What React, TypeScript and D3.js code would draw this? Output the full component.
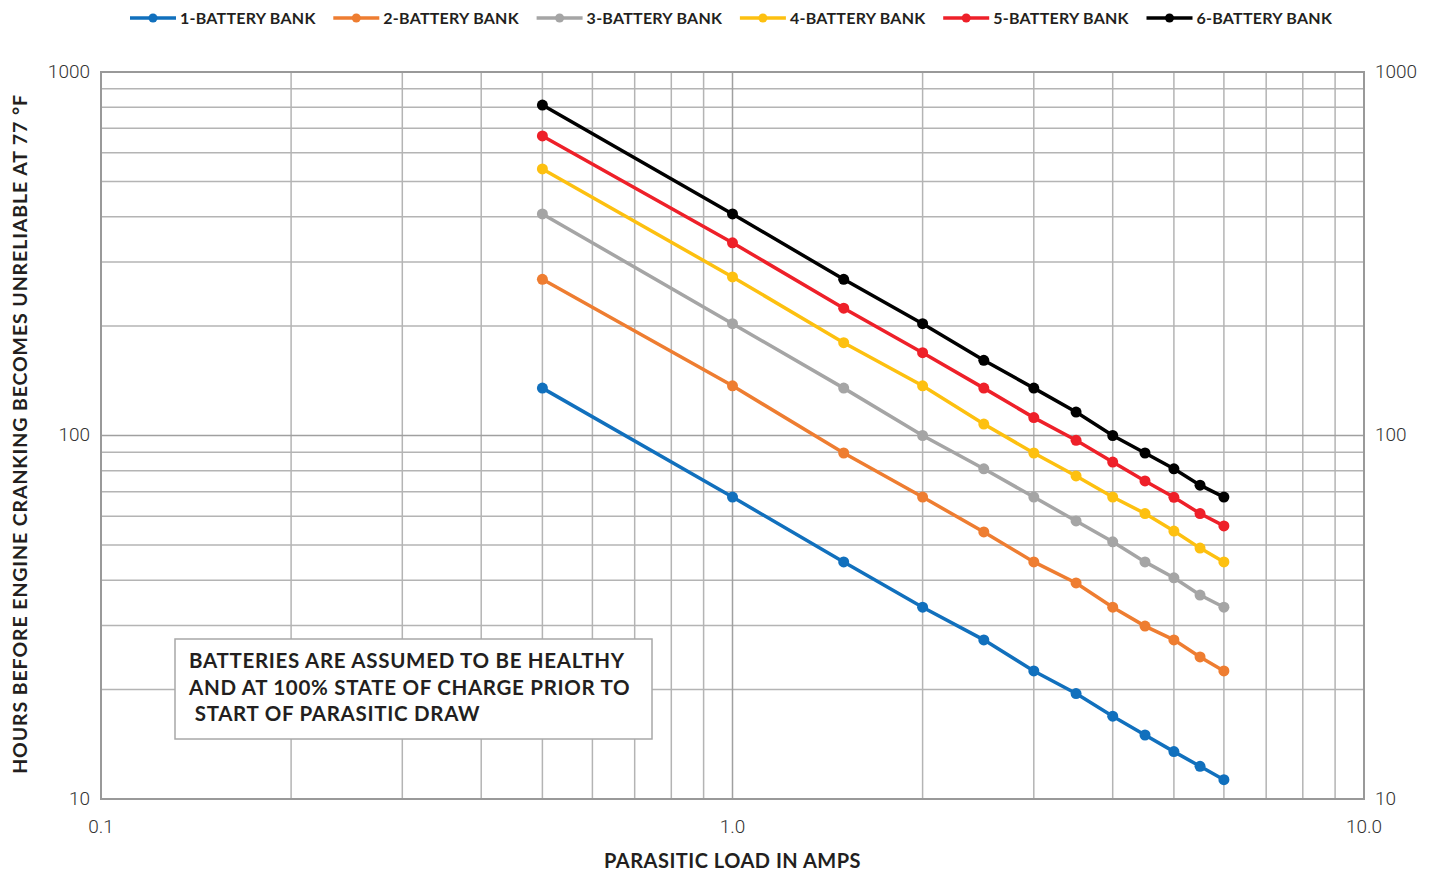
import React from 'react';
import * as d3 from 'd3';

// parasitic load (amps)
const loads = [0.5, 1, 1.5, 2, 2.5, 3, 3.5, 4, 4.5, 5, 5.5, 6];

const bank1 = [135, 67.7, 44.9, 33.7, 27.4, 22.5, 19.5, 16.9, 15, 13.5, 12.3, 11.3];
const bank2 = [269, 137, 89.5, 67.7, 54.3, 44.9, 39.3, 33.7, 29.9, 27.4, 24.6, 22.5];
const bank3 = [407, 203, 135, 100, 81, 67.7, 58.2, 51, 44.9, 40.6, 36.4, 33.7];
const bank4 = [541, 273, 180, 137, 107.5, 89.5, 77.4, 67.7, 61, 54.6, 49, 44.9];
const bank5 = [667, 339, 224, 169, 135, 112, 97, 84.5, 75, 67.6, 61, 56.4];
const bank6 = [811, 407, 269, 203, 161, 135, 116, 100, 89.5, 81, 73, 67.7];

const seriesNames = ['1-BATTERY BANK', '2-BATTERY BANK', '3-BATTERY BANK', '4-BATTERY BANK', '5-BATTERY BANK', '6-BATTERY BANK'];
const seriesValues = [bank1, bank2, bank3, bank4, bank5, bank6];
const seriesColors = ['#1170bd', '#ee7d31', '#a5a5a5', '#fdc010', '#ee2029', '#000000'];

const xTickVals = [0.1, 1, 10];
const xTickLabels = ['0.1', '1.0', '10.0'];
const yTickVals = [10, 100, 1000];

const noteLines = ['BATTERIES ARE ASSUMED TO BE HEALTHY', 'AND AT 100% STATE OF CHARGE PRIOR TO', '\u00a0START OF PARASITIC DRAW'];

export default function App() {
  const width = 1436, height = 872;
  const margin = { top: 72, right: 72, bottom: 73, left: 101 };
  const plotW = width - margin.left - margin.right;
  const plotH = height - margin.top - margin.bottom;

  const x = d3.scaleLog().domain([0.1, 10]).range([0, plotW]);
  const y = d3.scaleLog().domain([10, 1000]).range([plotH, 0]);

  const minorX: number[] = [];
  const minorY: number[] = [];
  [0.1, 1].forEach(d => { for (let i = 2; i <= 9; i++) minorX.push(d * i); });
  [10, 100].forEach(d => { for (let i = 2; i <= 9; i++) minorY.push(d * i); });

  const line = d3.line<[number, number]>()
    .x(d => x(d[0]))
    .y(d => y(d[1]));

  const boldFont = "'Lato', 'Open Sans', sans-serif";
  const tickFont = "'Roboto', 'Liberation Sans', sans-serif";

  return (
    <svg width={width} height={height} style={{ position: 'absolute', left: 0, top: 0, background: '#fff' }}>
      {/* legend */}
      <g fontFamily={boldFont} fontWeight={700} fontSize={16} letterSpacing={0.25} fill="#231f20">
        {seriesNames.map((name, i) => {
          const lx = 130 + i * 203.3;
          return (
            <g key={name} transform={`translate(${lx},18)`}>
              <line x1={0} x2={46} y1={0} y2={0} stroke={seriesColors[i]} strokeWidth={3.5} />
              <circle cx={23} cy={0} r={4.5} fill={seriesColors[i]} />
              <text x={50} y={0} dy="0.36em">{name}</text>
            </g>
          );
        })}
      </g>

      <g transform={`translate(${margin.left},${margin.top})`}>
        {/* grid */}
        {minorX.map(v => (
          <line key={'mx' + v} x1={x(v)} x2={x(v)} y1={0} y2={plotH} stroke="#b4b4b4" strokeWidth={1.5} />
        ))}
        {minorY.map(v => (
          <line key={'my' + v} x1={0} x2={plotW} y1={y(v)} y2={y(v)} stroke="#b4b4b4" strokeWidth={1.5} />
        ))}
        {yTickVals.map(v => (
          <line key={'gy' + v} x1={0} x2={plotW} y1={y(v)} y2={y(v)} stroke="#a0a0a0" strokeWidth={1.5} />
        ))}
        {xTickVals.map(v => (
          <line key={'gx' + v} x1={x(v)} x2={x(v)} y1={0} y2={plotH} stroke="#a0a0a0" strokeWidth={1.5} />
        ))}
        <rect x={0} y={0} width={plotW} height={plotH} fill="none" stroke="#999" strokeWidth={2} />

        {/* tick labels */}
        <g fontFamily={tickFont} fontWeight={300} fontSize={19} fill="#333">
          {yTickVals.map(v => (
            <text key={'ly' + v} x={-11} y={y(v)} dy="0.3em" textAnchor="end">{v}</text>
          ))}
          {yTickVals.map(v => (
            <text key={'ry' + v} x={plotW + 11} y={y(v)} dy="0.3em" textAnchor="start">{v}</text>
          ))}
          {xTickVals.map((v, i) => (
            <text key={'lx' + v} x={x(v)} y={plotH + 34} textAnchor="middle">{xTickLabels[i]}</text>
          ))}
        </g>

        {/* note box */}
        <rect x={74} y={567} width={477} height={100} fill="#fff" stroke="#a8a8a8" strokeWidth={1.5} />
        <g fontFamily={boldFont} fontWeight={700} fontSize={20.5} letterSpacing={0.7} fill="#231f20">
          {noteLines.map((t, i) => (
            <text key={i} x={88} y={589 + i * 26.5} dy="0.36em" style={{ whiteSpace: 'pre' }}>{t}</text>
          ))}
        </g>

        {/* series */}
        {seriesValues.map((vals, si) => {
          const pts = loads.map((l, i) => [l, vals[i]] as [number, number]);
          return (
            <g key={si}>
              <path d={line(pts) || ''} fill="none" stroke={seriesColors[si]} strokeWidth={3.5} />
              {pts.map((p, i) => (
                <circle key={i} cx={x(p[0])} cy={y(p[1])} r={5.5} fill={seriesColors[si]} />
              ))}
            </g>
          );
        })}
      </g>

      {/* axis titles */}
      <text x={margin.left + x(1)} y={868} textAnchor="middle" fontFamily={boldFont} fontWeight={700} fontSize={20} letterSpacing={0.5} fill="#231f20">
        PARASITIC LOAD IN AMPS
      </text>
      <text transform={`translate(20,${434}) rotate(-90)`} textAnchor="middle" dy="0.36em" fontFamily={boldFont} fontWeight={700} fontSize={19.5} letterSpacing={0.9} fill="#231f20">
        HOURS BEFORE ENGINE CRANKING BECOMES UNRELIABLE AT 77 °F
      </text>
    </svg>
  );
}
